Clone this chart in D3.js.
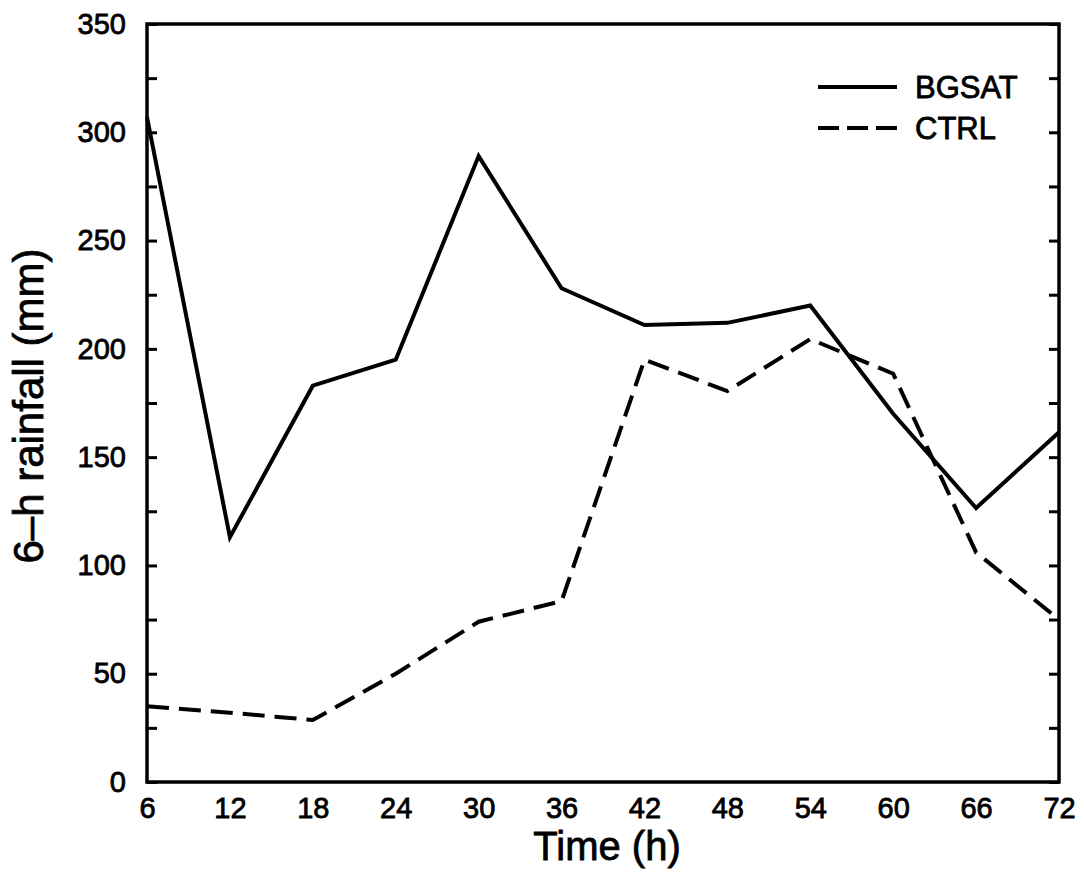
<!DOCTYPE html>
<html>
<head>
<meta charset="utf-8">
<script src="https://cdn.jsdelivr.net/npm/d3@7"></script>
<style>
  html, body { margin: 0; padding: 0; background: #fff; }
  text { font-family: "Liberation Sans", Arial, Helvetica, sans-serif; fill: #000; stroke: #000; stroke-width: 0.8px; }
</style>
</head>
<body>
<svg id="chart" width="1084" height="878"></svg>
<script>
const times = [6, 12, 18, 24, 30, 36, 42, 48, 54, 60, 66, 72];
const bgsat = [307, 113, 183, 195, 289, 228, 211, 212, 220, 170, 126.5, 161.5];
const ctrl  = [35, 32, 28.6, 50, 74, 83.5, 195, 180.5, 204.5, 188.5, 106, 75];
const yTicks = [0, 50, 100, 150, 200, 250, 300, 350];
const seriesNames = ["BGSAT", "CTRL"];

const svg = d3.select("#chart");
const L = 147, R = 1059, T = 24, B = 782;

const x = d3.scaleLinear().domain([6, 72]).range([L, R]);
const y = d3.scaleLinear().domain([0, 350]).range([B, T]);

// frame
svg.append("rect").attr("x", L).attr("y", T).attr("width", R - L).attr("height", B - T)
  .attr("fill", "none").attr("stroke", "#000").attr("stroke-width", 3.5);

const minor = d3.range(0, 351, 25);
// left inward ticks
svg.append("g").attr("transform", `translate(${L},0)`)
  .call(d3.axisRight(y).tickValues(minor).tickSize(10).tickFormat(""))
  .call(g => g.select(".domain").remove())
  .call(g => g.selectAll("line").attr("stroke-width", 3));
// right inward ticks
svg.append("g").attr("transform", `translate(${R},0)`)
  .call(d3.axisLeft(y).tickValues(minor).tickSize(10).tickFormat(""))
  .call(g => g.select(".domain").remove())
  .call(g => g.selectAll("line").attr("stroke-width", 3));

const styleTick = g => g.selectAll("text")
  .attr("font-size", 29)
  .style("font-family", "Liberation Sans, Arial, sans-serif")
  .attr("fill", "#000").attr("stroke", "#000").attr("stroke-width", 0.8);

// y tick labels
svg.append("g").attr("transform", `translate(${L},0)`)
  .call(d3.axisLeft(y).tickValues(yTicks).tickSize(0).tickPadding(21))
  .call(g => g.select(".domain").remove())
  .call(styleTick);

// x tick labels
svg.append("g").attr("transform", `translate(0,${B})`)
  .call(d3.axisBottom(x).tickValues(times).tickSize(0).tickPadding(15))
  .call(g => g.select(".domain").remove())
  .call(styleTick);

// axis titles
svg.append("text").attr("x", 607).attr("y", 860).attr("text-anchor", "middle")
  .attr("font-size", 40).text("Time (h)");
svg.append("text").attr("transform", `translate(43,406) rotate(-90)`)
  .attr("text-anchor", "middle").attr("font-size", 42).text("6–h rainfall (mm)");

const line = d3.line().x((d, i) => x(times[i])).y(d => y(d));

svg.append("path").datum(bgsat).attr("d", line).attr("fill", "none")
  .attr("stroke", "#000").attr("stroke-width", 4).attr("stroke-linejoin", "miter");
svg.append("path").datum(ctrl).attr("d", line).attr("fill", "none")
  .attr("stroke", "#000").attr("stroke-width", 4).attr("stroke-dasharray", "22,10");

// legend
const leg = svg.append("g");
const legY = [87, 128];
seriesNames.forEach((name, i) => {
  leg.append("line").attr("x1", 818).attr("x2", 897).attr("y1", legY[i]).attr("y2", legY[i])
    .attr("stroke", "#000").attr("stroke-width", 4)
    .attr("stroke-dasharray", i === 1 ? "21,8" : null);
  leg.append("text").attr("x", 915).attr("y", legY[i] + 11).attr("font-size", 31).text(name);
});
</script>
</body>
</html>
